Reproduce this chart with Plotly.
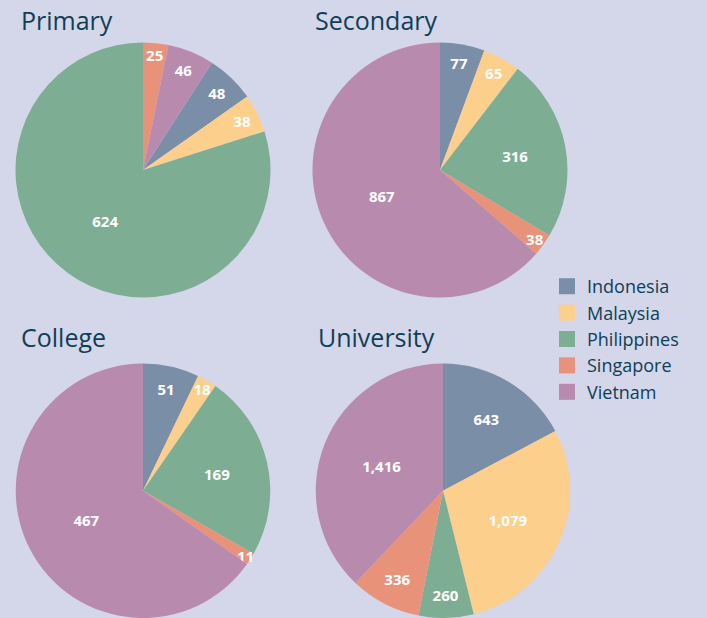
import plotly.graph_objects as go

countries = ["Indonesia", "Malaysia", "Philippines", "Singapore", "Vietnam"]
primary = [48, 38, 624, 25, 46]
secondary = [77, 65, 316, 38, 867]
college = [51, 18, 169, 11, 467]
university = [643, 1079, 260, 336, 1416]
titles = ["Primary", "Secondary", "College", "University"]

colors = ["#7b8ea7", "#fdcf8c", "#7dae94", "#e8927a", "#b88aad"]
BG = "#d4d6e9"
INK = "#0f3f56"
W, H = 707, 618
R = 127.5
FONT = "Open Sans"

# layout: (values, centre x px, centre y px from top, rotation)
primary_rot = 360.0 * (primary[3] + primary[4]) / sum(primary)
panels = [
    (primary, 143, 170, primary_rot),
    (secondary, 440, 170, 0),
    (college, 143, 491, 0),
    (university, 443, 491, 0),
]
title_pos = [(19, 20), (313, 20), (19, 337), (316, 337)]

fig = go.Figure()
for i, (vals, cx, cy, rot) in enumerate(panels):
    x0 = (cx - R) / W
    x1 = (cx + R) / W
    y0 = max(0.0, 1 - (cy + R) / H)
    y1 = min(1.0, 1 - (cy - R) / H)
    fig.add_trace(go.Pie(
        labels=countries,
        values=vals,
        sort=False,
        direction="clockwise",
        rotation=rot,
        domain=dict(x=[x0, x1], y=[y0, y1]),
        marker=dict(colors=colors, line=dict(width=0)),
        texttemplate="%{value:,}",
        textposition="inside",
        insidetextorientation="horizontal",
        textfont=dict(family=FONT, size=15, color="white", weight="bold"),
        hoverinfo="label+value",
        showlegend=False,
    ))

# legend entries (larger square swatches)
for name, col in zip(countries, colors):
    fig.add_trace(go.Scatter(
        x=[None], y=[None], mode="markers", name=name,
        marker=dict(symbol="square", size=16, color=col, line=dict(width=0)),
        showlegend=True, hoverinfo="skip",
    ))

for t, (tx, ty) in zip(titles, title_pos):
    fig.add_annotation(
        text=t, x=tx / W, y=1 - ty / H, xref="paper", yref="paper",
        xanchor="left", yanchor="middle", showarrow=False,
        font=dict(family=FONT, size=25, color=INK),
    )

fig.update_layout(
    width=W, height=H,
    margin=dict(l=0, r=0, t=0, b=0),
    paper_bgcolor=BG, plot_bgcolor="rgba(0,0,0,0)",
    xaxis=dict(visible=False), yaxis=dict(visible=False),
    showlegend=True,
    legend=dict(
        x=547 / W, y=1 - 268 / H, xanchor="left", yanchor="top",
        font=dict(family=FONT, size=18, color=INK),
        bgcolor="rgba(0,0,0,0)", tracegroupgap=0,
    ),
    uniformtext=dict(minsize=15, mode="show"),
)

fig.write_html(
    "out.html",
    config={"displayModeBar": False},
    post_script="document.body.style.margin='0px';document.body.style.background='%s';" % BG,
)
